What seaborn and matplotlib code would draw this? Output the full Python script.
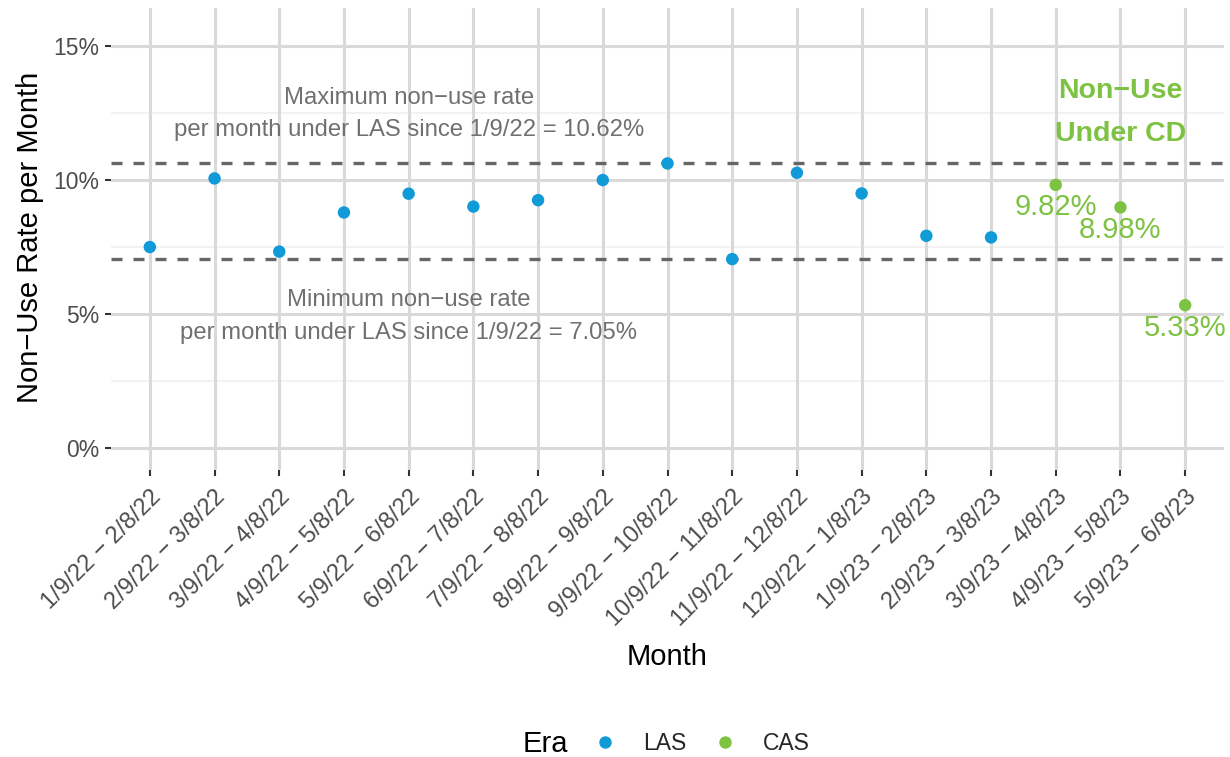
import matplotlib
matplotlib.use("Agg")
import matplotlib.pyplot as plt
import matplotlib.transforms as mtransforms
from matplotlib.ticker import FixedLocator, FuncFormatter
import numpy as np
import pandas as pd
import seaborn as sns

# Monthly windows and non-use rates (%)
months = [
    "1/9/22 − 2/8/22", "2/9/22 − 3/8/22", "3/9/22 − 4/8/22", "4/9/22 − 5/8/22",
    "5/9/22 − 6/8/22", "6/9/22 − 7/8/22", "7/9/22 − 8/8/22", "8/9/22 − 9/8/22",
    "9/9/22 − 10/8/22", "10/9/22 − 11/8/22", "11/9/22 − 12/8/22", "12/9/22 − 1/8/23",
    "1/9/23 − 2/8/23", "2/9/23 − 3/8/23", "3/9/23 − 4/8/23", "4/9/23 − 5/8/23",
    "5/9/23 − 6/8/23",
]
las_rates = [7.50, 10.06, 7.33, 8.79, 9.49, 9.01, 9.25, 10.00, 10.62, 7.05,
             10.27, 9.50, 7.92, 7.86]
cas_rates = [9.82, 8.98, 5.33]
eras = ["LAS", "CAS"]

BLUE = "#119ad8"
GREEN = "#7dc242"

df = pd.DataFrame({
    "Month": months,
    "Rate": las_rates + cas_rates,
    "Era": [eras[0]] * len(las_rates) + [eras[1]] * len(cas_rates),
})
df["Month"] = pd.Categorical(df["Month"], categories=months, ordered=True)

max_las = max(las_rates)
min_las = min(las_rates)

sns.set_theme(style="white")
plt.rcParams["font.family"] = ["Liberation Sans", "DejaVu Sans"]

fig = plt.figure(figsize=(12.3, 7.57), dpi=100)
W, H = 1230, 757
ax = fig.add_axes([111 / W, 1 - 470 / H, (1224 - 111) / W, (470 - 8) / H])

# grid
ax.set_axisbelow(True)
for y in [2.5, 7.5, 12.5]:
    ax.axhline(y, color="#efefef", lw=1.1, zorder=0)
for y in [0, 5, 10, 15]:
    ax.axhline(y, color="#d9d9d9", lw=2.2, zorder=0)
for i in range(len(months)):
    ax.axvline(i, color="#d9d9d9", lw=2.2, zorder=0)

# reference lines at the LAS extremes
for v in (max_las, min_las):
    ax.axhline(v, color="#666666", lw=2.4, linestyle=(0, (3.3, 3.3)), zorder=1)

sns.scatterplot(
    data=df, x="Month", y="Rate", hue="Era", hue_order=eras,
    palette={"LAS": BLUE, "CAS": GREEN}, s=80, linewidth=0, ax=ax, zorder=3,
)

# value labels for the CAS months
cas_df = df[df["Era"] == "CAS"]
for m, r in zip(cas_df["Month"], cas_df["Rate"]):
    ax.annotate(f"{r:.2f}%", xy=(months.index(m), r), xytext=(0, -16.2),
                textcoords="offset points", ha="center", va="center",
                color=GREEN, fontsize=21)

ax.text(4, 12.46,
        f"Maximum non−use rate\nper month under LAS since 1/9/22 = {max_las:.2f}%",
        ha="center", va="center", color="#707070", fontsize=17.2, linespacing=1.6)
ax.text(4, 4.91,
        f"Minimum non−use rate\nper month under LAS since 1/9/22 = {min_las:.2f}%",
        ha="center", va="center", color="#707070", fontsize=17.2, linespacing=1.6)
ax.text(15, 12.52, "Non−Use\nUnder CD", ha="center", va="center",
        color=GREEN, fontsize=20.5, fontweight="bold", linespacing=1.87)

ax.set_xlim(-0.6, len(months) - 0.4)
ax.set_ylim(-0.82, 16.42)
ax.yaxis.set_major_locator(FixedLocator([0, 5, 10, 15]))
ax.yaxis.set_major_formatter(FuncFormatter(lambda v, p: f"{v:.0f}%"))
ax.set_xticks(range(len(months)))
ax.set_xticklabels(months, rotation=45, ha="right", va="top",
                   rotation_mode="anchor")
ax.tick_params(axis="both", which="major", length=4.3, width=1.5, color="#333333",
               labelsize=16.5, labelcolor="#4d4d4d", left=True, bottom=True)
ax.tick_params(axis="x", pad=7, labelsize=17)
ax.tick_params(axis="y", pad=4)

for sp in ax.spines.values():
    sp.set_visible(False)

ax.set_xlabel("")
ax.set_ylabel("")
fig.text(667.5 / W, 1 - 657 / H, "Month", ha="center", va="center",
         fontsize=21, color="black")
fig.text(30 / W, 1 - 237 / H, "Non−Use Rate per Month", ha="center", va="center",
         rotation=90, fontsize=21, color="black")

sns.move_legend(
    ax, loc="center left", bbox_to_anchor=(594 / W, 1 - 744 / H),
    bbox_transform=fig.transFigure, ncol=2, title=None, frameon=False,
    fontsize=16.5, handlelength=1.0, handletextpad=1.15, columnspacing=1.2,
    borderpad=0, borderaxespad=0, markerscale=1.0,
)
fig.text(523 / W, 1 - 744 / H, "Era", ha="left", va="center", fontsize=21,
         color="black")

fig.savefig("out.png", dpi=100, facecolor="white")
